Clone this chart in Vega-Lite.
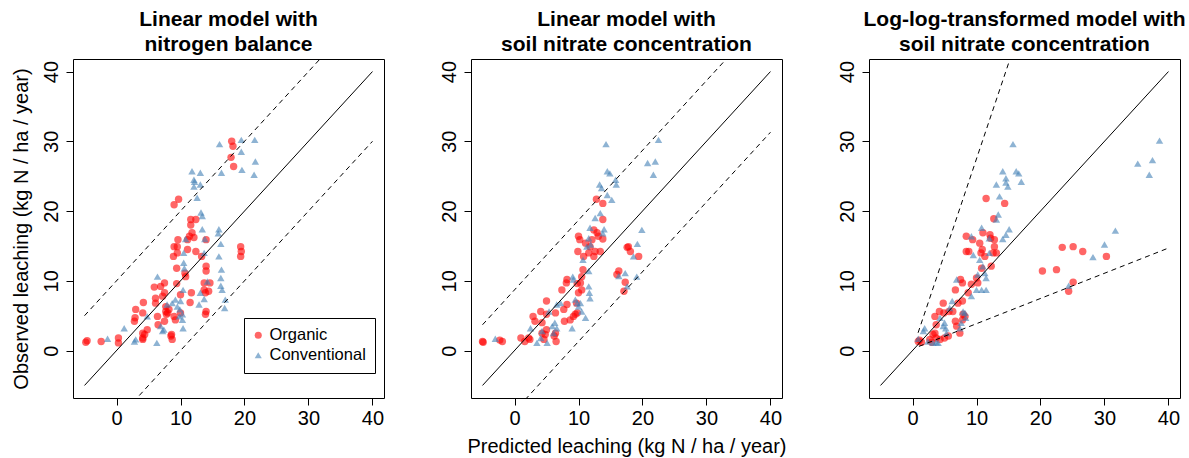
{
"$schema": "https://vega.github.io/schema/vega-lite/v6.json",
"padding": {"left": 10, "top": 8, "right": 5, "bottom": 5},
"background": "white",
"datasets": {
"pts": [
{"panel":1,"type":"Organic","pred":-4.8,"obs":1.2},{"panel":1,"type":"Organic","pred":-4.6,"obs":1.4},{"panel":1,"type":"Organic","pred":-2.4,"obs":1.3},{"panel":1,"type":"Organic","pred":0.3,"obs":1.8},{"panel":1,"type":"Organic","pred":0.3,"obs":1.1},{"panel":1,"type":"Organic","pred":3.0,"obs":5.9},{"panel":1,"type":"Organic","pred":2.9,"obs":4.7},{"panel":1,"type":"Organic","pred":2.8,"obs":4.2},{"panel":1,"type":"Organic","pred":4.1,"obs":5.4},{"panel":1,"type":"Organic","pred":4.2,"obs":6.9},{"panel":1,"type":"Organic","pred":4.1,"obs":2.5},{"panel":1,"type":"Organic","pred":4.1,"obs":1.8},{"panel":1,"type":"Organic","pred":4.1,"obs":1.6},{"panel":1,"type":"Organic","pred":4.8,"obs":3.0},{"panel":1,"type":"Organic","pred":4.4,"obs":2.3},{"panel":1,"type":"Organic","pred":5.9,"obs":9.1},{"panel":1,"type":"Organic","pred":6.1,"obs":6.8},{"panel":1,"type":"Organic","pred":6.1,"obs":7.5},{"panel":1,"type":"Organic","pred":6.4,"obs":4.9},{"panel":1,"type":"Organic","pred":6.5,"obs":3.7},{"panel":1,"type":"Organic","pred":6.9,"obs":9.2},{"panel":1,"type":"Organic","pred":7.2,"obs":7.8},{"panel":1,"type":"Organic","pred":7.5,"obs":9.7},{"panel":1,"type":"Organic","pred":7.5,"obs":8.3},{"panel":1,"type":"Organic","pred":7.7,"obs":6.3},{"panel":1,"type":"Organic","pred":7.7,"obs":5.6},{"panel":1,"type":"Organic","pred":7.8,"obs":5.2},{"panel":1,"type":"Organic","pred":8.2,"obs":5.9},{"panel":1,"type":"Organic","pred":8.0,"obs":5.4},{"panel":1,"type":"Organic","pred":7.5,"obs":4.2},{"panel":1,"type":"Organic","pred":8.5,"obs":2.1},{"panel":1,"type":"Organic","pred":8.7,"obs":1.6},{"panel":1,"type":"Organic","pred":8.6,"obs":2.3},{"panel":1,"type":"Organic","pred":9.0,"obs":4.9},{"panel":1,"type":"Organic","pred":9.2,"obs":4.4},{"panel":1,"type":"Organic","pred":9.4,"obs":9.6},{"panel":1,"type":"Organic","pred":8.9,"obs":13.5},{"panel":1,"type":"Organic","pred":9.0,"obs":14.9},{"panel":1,"type":"Organic","pred":9.5,"obs":14.9},{"panel":1,"type":"Organic","pred":9.5,"obs":14.0},{"panel":1,"type":"Organic","pred":9.6,"obs":15.9},{"panel":1,"type":"Organic","pred":9.4,"obs":11.8},{"panel":1,"type":"Organic","pred":9.0,"obs":20.9},{"panel":1,"type":"Organic","pred":9.7,"obs":21.7},{"panel":1,"type":"Organic","pred":10.0,"obs":8.0},{"panel":1,"type":"Organic","pred":10.0,"obs":5.4},{"panel":1,"type":"Organic","pred":10.7,"obs":11.1},{"panel":1,"type":"Organic","pred":10.8,"obs":10.6},{"panel":1,"type":"Organic","pred":11.1,"obs":15.9},{"panel":1,"type":"Organic","pred":11.1,"obs":14.5},{"panel":1,"type":"Organic","pred":11.4,"obs":16.4},{"panel":1,"type":"Organic","pred":11.6,"obs":18.0},{"panel":1,"type":"Organic","pred":11.6,"obs":18.8},{"panel":1,"type":"Organic","pred":11.8,"obs":16.9},{"panel":1,"type":"Organic","pred":12.1,"obs":16.2},{"panel":1,"type":"Organic","pred":12.4,"obs":18.8},{"panel":1,"type":"Organic","pred":12.4,"obs":14.2},{"panel":1,"type":"Organic","pred":11.7,"obs":8.3},{"panel":1,"type":"Organic","pred":11.5,"obs":6.9},{"panel":1,"type":"Organic","pred":13.3,"obs":13.5},{"panel":1,"type":"Organic","pred":13.7,"obs":9.7},{"panel":1,"type":"Organic","pred":13.7,"obs":8.7},{"panel":1,"type":"Organic","pred":13.9,"obs":8.3},{"panel":1,"type":"Organic","pred":14.0,"obs":12.1},{"panel":1,"type":"Organic","pred":14.0,"obs":11.4},{"panel":1,"type":"Organic","pred":14.0,"obs":15.9},{"panel":1,"type":"Organic","pred":14.0,"obs":5.6},{"panel":1,"type":"Organic","pred":13.9,"obs":5.2},{"panel":1,"type":"Organic","pred":14.4,"obs":8.5},{"panel":1,"type":"Organic","pred":14.6,"obs":9.7},{"panel":1,"type":"Organic","pred":19.4,"obs":14.9},{"panel":1,"type":"Organic","pred":19.5,"obs":14.2},{"panel":1,"type":"Organic","pred":19.4,"obs":13.5},{"panel":1,"type":"Organic","pred":18.0,"obs":30.0},{"panel":1,"type":"Organic","pred":18.2,"obs":29.3},{"panel":1,"type":"Organic","pred":17.9,"obs":27.7},{"panel":1,"type":"Organic","pred":18.3,"obs":26.4},
{"panel":1,"type":"Conventional","pred":-1.4,"obs":1.7},{"panel":1,"type":"Conventional","pred":1.2,"obs":3.2},{"panel":1,"type":"Conventional","pred":2.8,"obs":1.3},{"panel":1,"type":"Conventional","pred":3.0,"obs":1.6},{"panel":1,"type":"Conventional","pred":4.8,"obs":4.9},{"panel":1,"type":"Conventional","pred":6.3,"obs":1.1},{"panel":1,"type":"Conventional","pred":6.4,"obs":10.6},{"panel":1,"type":"Conventional","pred":6.9,"obs":3.5},{"panel":1,"type":"Conventional","pred":7.2,"obs":2.8},{"panel":1,"type":"Conventional","pred":7.4,"obs":3.0},{"panel":1,"type":"Conventional","pred":7.9,"obs":6.6},{"panel":1,"type":"Conventional","pred":8.7,"obs":6.8},{"panel":1,"type":"Conventional","pred":9.2,"obs":7.3},{"panel":1,"type":"Conventional","pred":9.5,"obs":6.3},{"panel":1,"type":"Conventional","pred":9.8,"obs":4.9},{"panel":1,"type":"Conventional","pred":10.3,"obs":5.2},{"panel":1,"type":"Conventional","pred":10.3,"obs":4.4},{"panel":1,"type":"Conventional","pred":10.4,"obs":3.2},{"panel":1,"type":"Conventional","pred":10.5,"obs":12.6},{"panel":1,"type":"Conventional","pred":10.5,"obs":14.0},{"panel":1,"type":"Conventional","pred":10.4,"obs":8.7},{"panel":1,"type":"Conventional","pred":10.6,"obs":11.8},{"panel":1,"type":"Conventional","pred":10.8,"obs":16.0},{"panel":1,"type":"Conventional","pred":11.8,"obs":25.7},{"panel":1,"type":"Conventional","pred":12.1,"obs":24.5},{"panel":1,"type":"Conventional","pred":12.2,"obs":24.2},{"panel":1,"type":"Conventional","pred":12.1,"obs":23.5},{"panel":1,"type":"Conventional","pred":12.6,"obs":21.9},{"panel":1,"type":"Conventional","pred":13.1,"obs":25.5},{"panel":1,"type":"Conventional","pred":13.1,"obs":23.8},{"panel":1,"type":"Conventional","pred":13.2,"obs":19.8},{"panel":1,"type":"Conventional","pred":13.4,"obs":19.3},{"panel":1,"type":"Conventional","pred":13.4,"obs":17.4},{"panel":1,"type":"Conventional","pred":13.8,"obs":16.0},{"panel":1,"type":"Conventional","pred":13.7,"obs":14.0},{"panel":1,"type":"Conventional","pred":13.1,"obs":8.3},{"panel":1,"type":"Conventional","pred":13.7,"obs":7.4},{"panel":1,"type":"Conventional","pred":12.9,"obs":6.6},{"panel":1,"type":"Conventional","pred":14.2,"obs":9.9},{"panel":1,"type":"Conventional","pred":16.0,"obs":17.4},{"panel":1,"type":"Conventional","pred":15.9,"obs":16.8},{"panel":1,"type":"Conventional","pred":16.3,"obs":15.3},{"panel":1,"type":"Conventional","pred":16.0,"obs":13.5},{"panel":1,"type":"Conventional","pred":16.4,"obs":11.6},{"panel":1,"type":"Conventional","pred":16.3,"obs":10.4},{"panel":1,"type":"Conventional","pred":16.3,"obs":9.3},{"panel":1,"type":"Conventional","pred":16.5,"obs":8.7},{"panel":1,"type":"Conventional","pred":16.9,"obs":6.1},{"panel":1,"type":"Conventional","pred":17.0,"obs":7.3},{"panel":1,"type":"Conventional","pred":16.1,"obs":29.6},{"panel":1,"type":"Conventional","pred":16.4,"obs":25.5},{"panel":1,"type":"Conventional","pred":19.5,"obs":30.2},{"panel":1,"type":"Conventional","pred":19.5,"obs":28.5},{"panel":1,"type":"Conventional","pred":19.6,"obs":25.9},{"panel":1,"type":"Conventional","pred":21.6,"obs":30.2},{"panel":1,"type":"Conventional","pred":21.7,"obs":27.1},{"panel":1,"type":"Conventional","pred":21.5,"obs":25.2},{"panel":1,"type":"Conventional","pred":10.0,"obs":7.1},{"panel":1,"type":"Conventional","pred":9.9,"obs":5.9},
{"panel":2,"type":"Organic","pred":-5.0,"obs":1.3},{"panel":2,"type":"Organic","pred":-4.9,"obs":1.2},{"panel":2,"type":"Organic","pred":-2.3,"obs":1.5},{"panel":2,"type":"Organic","pred":-1.9,"obs":1.3},{"panel":2,"type":"Organic","pred":1.0,"obs":1.8},{"panel":2,"type":"Organic","pred":1.6,"obs":1.3},{"panel":2,"type":"Organic","pred":2.2,"obs":1.8},{"panel":2,"type":"Organic","pred":2.4,"obs":1.6},{"panel":2,"type":"Organic","pred":2.9,"obs":4.9},{"panel":2,"type":"Organic","pred":3.2,"obs":4.2},{"panel":2,"type":"Organic","pred":4.1,"obs":5.6},{"panel":2,"type":"Organic","pred":4.3,"obs":4.0},{"panel":2,"type":"Organic","pred":4.3,"obs":2.5},{"panel":2,"type":"Organic","pred":4.6,"obs":1.6},{"panel":2,"type":"Organic","pred":5.0,"obs":7.1},{"panel":2,"type":"Organic","pred":5.0,"obs":5.2},{"panel":2,"type":"Organic","pred":5.0,"obs":3.0},{"panel":2,"type":"Organic","pred":4.8,"obs":2.3},{"panel":2,"type":"Organic","pred":6.4,"obs":5.4},{"panel":2,"type":"Organic","pred":6.2,"obs":2.1},{"panel":2,"type":"Organic","pred":6.4,"obs":2.5},{"panel":2,"type":"Organic","pred":6.5,"obs":1.3},{"panel":2,"type":"Organic","pred":7.7,"obs":5.9},{"panel":2,"type":"Organic","pred":7.4,"obs":8.7},{"panel":2,"type":"Organic","pred":7.8,"obs":4.2},{"panel":2,"type":"Organic","pred":8.2,"obs":10.2},{"panel":2,"type":"Organic","pred":8.1,"obs":9.7},{"panel":2,"type":"Organic","pred":8.2,"obs":6.6},{"panel":2,"type":"Organic","pred":8.7,"obs":4.4},{"panel":2,"type":"Organic","pred":9.2,"obs":4.9},{"panel":2,"type":"Organic","pred":9.5,"obs":5.2},{"panel":2,"type":"Organic","pred":9.7,"obs":6.8},{"panel":2,"type":"Organic","pred":9.8,"obs":9.6},{"panel":2,"type":"Organic","pred":10.0,"obs":8.3},{"panel":2,"type":"Organic","pred":9.9,"obs":14.2},{"panel":2,"type":"Organic","pred":10.0,"obs":16.4},{"panel":2,"type":"Organic","pred":10.2,"obs":15.9},{"panel":2,"type":"Organic","pred":10.3,"obs":9.7},{"panel":2,"type":"Organic","pred":10.5,"obs":10.6},{"panel":2,"type":"Organic","pred":10.7,"obs":11.6},{"panel":2,"type":"Organic","pred":10.8,"obs":13.5},{"panel":2,"type":"Organic","pred":11.1,"obs":15.4},{"panel":2,"type":"Organic","pred":11.6,"obs":14.0},{"panel":2,"type":"Organic","pred":11.8,"obs":14.9},{"panel":2,"type":"Organic","pred":12.1,"obs":15.9},{"panel":2,"type":"Organic","pred":12.4,"obs":17.3},{"panel":2,"type":"Organic","pred":12.4,"obs":13.5},{"panel":2,"type":"Organic","pred":12.6,"obs":14.2},{"panel":2,"type":"Organic","pred":12.9,"obs":16.9},{"panel":2,"type":"Organic","pred":13.1,"obs":16.4},{"panel":2,"type":"Organic","pred":13.4,"obs":14.2},{"panel":2,"type":"Organic","pred":12.8,"obs":21.7},{"panel":2,"type":"Organic","pred":13.8,"obs":21.1},{"panel":2,"type":"Organic","pred":13.8,"obs":18.8},{"panel":2,"type":"Organic","pred":13.8,"obs":16.0},{"panel":2,"type":"Organic","pred":16.3,"obs":11.4},{"panel":2,"type":"Organic","pred":16.0,"obs":10.9},{"panel":2,"type":"Organic","pred":17.3,"obs":9.8},{"panel":2,"type":"Organic","pred":17.1,"obs":8.5},{"panel":2,"type":"Organic","pred":17.6,"obs":14.8},{"panel":2,"type":"Organic","pred":17.8,"obs":14.9},{"panel":2,"type":"Organic","pred":18.1,"obs":14.2},{"panel":2,"type":"Organic","pred":19.4,"obs":13.5},{"panel":2,"type":"Organic","pred":9.8,"obs":5.4},{"panel":2,"type":"Organic","pred":10.5,"obs":8.7},
{"panel":2,"type":"Conventional","pred":-3.0,"obs":1.7},{"panel":2,"type":"Conventional","pred":2.5,"obs":3.2},{"panel":2,"type":"Conventional","pred":3.5,"obs":1.1},{"panel":2,"type":"Conventional","pred":4.1,"obs":1.8},{"panel":2,"type":"Conventional","pred":4.3,"obs":2.8},{"panel":2,"type":"Conventional","pred":5.1,"obs":1.1},{"panel":2,"type":"Conventional","pred":5.4,"obs":5.6},{"panel":2,"type":"Conventional","pred":5.9,"obs":3.5},{"panel":2,"type":"Conventional","pred":6.1,"obs":2.5},{"panel":2,"type":"Conventional","pred":6.3,"obs":4.0},{"panel":2,"type":"Conventional","pred":6.6,"obs":3.2},{"panel":2,"type":"Conventional","pred":6.6,"obs":6.6},{"panel":2,"type":"Conventional","pred":7.2,"obs":6.8},{"panel":2,"type":"Conventional","pred":9.0,"obs":3.2},{"panel":2,"type":"Conventional","pred":9.1,"obs":10.6},{"panel":2,"type":"Conventional","pred":9.2,"obs":10.2},{"panel":2,"type":"Conventional","pred":9.5,"obs":7.3},{"panel":2,"type":"Conventional","pred":9.8,"obs":6.8},{"panel":2,"type":"Conventional","pred":10.5,"obs":5.6},{"panel":2,"type":"Conventional","pred":11.1,"obs":4.7},{"panel":2,"type":"Conventional","pred":10.7,"obs":13.0},{"panel":2,"type":"Conventional","pred":11.3,"obs":14.9},{"panel":2,"type":"Conventional","pred":11.6,"obs":16.1},{"panel":2,"type":"Conventional","pred":11.6,"obs":11.4},{"panel":2,"type":"Conventional","pred":11.6,"obs":9.2},{"panel":2,"type":"Conventional","pred":11.7,"obs":8.3},{"panel":2,"type":"Conventional","pred":11.8,"obs":17.6},{"panel":2,"type":"Conventional","pred":11.9,"obs":15.2},{"panel":2,"type":"Conventional","pred":11.8,"obs":7.5},{"panel":2,"type":"Conventional","pred":12.6,"obs":19.0},{"panel":2,"type":"Conventional","pred":13.4,"obs":19.7},{"panel":2,"type":"Conventional","pred":13.3,"obs":23.8},{"panel":2,"type":"Conventional","pred":13.6,"obs":23.3},{"panel":2,"type":"Conventional","pred":14.3,"obs":29.6},{"panel":2,"type":"Conventional","pred":14.5,"obs":25.7},{"panel":2,"type":"Conventional","pred":14.9,"obs":25.4},{"panel":2,"type":"Conventional","pred":15.8,"obs":24.5},{"panel":2,"type":"Conventional","pred":15.9,"obs":23.8},{"panel":2,"type":"Conventional","pred":14.5,"obs":22.3},{"panel":2,"type":"Conventional","pred":15.2,"obs":21.6},{"panel":2,"type":"Conventional","pred":14.0,"obs":17.4},{"panel":2,"type":"Conventional","pred":13.8,"obs":16.8},{"panel":2,"type":"Conventional","pred":16.3,"obs":10.7},{"panel":2,"type":"Conventional","pred":17.6,"obs":9.2},{"panel":2,"type":"Conventional","pred":17.3,"obs":11.1},{"panel":2,"type":"Conventional","pred":19.2,"obs":15.3},{"panel":2,"type":"Conventional","pred":19.9,"obs":17.3},{"panel":2,"type":"Conventional","pred":19.1,"obs":10.6},{"panel":2,"type":"Conventional","pred":18.6,"obs":13.5},{"panel":2,"type":"Conventional","pred":20.8,"obs":26.9},{"panel":2,"type":"Conventional","pred":22.0,"obs":27.1},{"panel":2,"type":"Conventional","pred":21.7,"obs":25.2},{"panel":2,"type":"Conventional","pred":22.5,"obs":30.2},{"panel":2,"type":"Conventional","pred":10.3,"obs":6.8},{"panel":2,"type":"Conventional","pred":10.0,"obs":6.3},
{"panel":3,"type":"Organic","pred":0.9,"obs":1.3},{"panel":3,"type":"Organic","pred":1.1,"obs":1.5},{"panel":3,"type":"Organic","pred":1.4,"obs":1.2},{"panel":3,"type":"Organic","pred":2.7,"obs":1.6},{"panel":3,"type":"Organic","pred":3.0,"obs":1.2},{"panel":3,"type":"Organic","pred":3.2,"obs":2.3},{"panel":3,"type":"Organic","pred":3.5,"obs":4.9},{"panel":3,"type":"Organic","pred":3.7,"obs":3.7},{"panel":3,"type":"Organic","pred":3.5,"obs":2.5},{"panel":3,"type":"Organic","pred":4.2,"obs":5.6},{"panel":3,"type":"Organic","pred":3.7,"obs":1.8},{"panel":3,"type":"Organic","pred":4.3,"obs":1.6},{"panel":3,"type":"Organic","pred":4.8,"obs":6.8},{"panel":3,"type":"Organic","pred":4.9,"obs":5.4},{"panel":3,"type":"Organic","pred":5.0,"obs":1.8},{"panel":3,"type":"Organic","pred":5.6,"obs":2.1},{"panel":3,"type":"Organic","pred":5.7,"obs":5.6},{"panel":3,"type":"Organic","pred":6.3,"obs":5.6},{"panel":3,"type":"Organic","pred":6.7,"obs":8.7},{"panel":3,"type":"Organic","pred":6.7,"obs":4.2},{"panel":3,"type":"Organic","pred":7.1,"obs":6.8},{"panel":3,"type":"Organic","pred":7.5,"obs":10.2},{"panel":3,"type":"Organic","pred":7.8,"obs":9.7},{"panel":3,"type":"Organic","pred":7.8,"obs":7.1},{"panel":3,"type":"Organic","pred":7.8,"obs":4.4},{"panel":3,"type":"Organic","pred":7.9,"obs":5.2},{"panel":3,"type":"Organic","pred":8.2,"obs":4.9},{"panel":3,"type":"Organic","pred":8.4,"obs":16.4},{"panel":3,"type":"Organic","pred":8.4,"obs":14.2},{"panel":3,"type":"Organic","pred":8.8,"obs":14.2},{"panel":3,"type":"Organic","pred":8.7,"obs":8.3},{"panel":3,"type":"Organic","pred":9.2,"obs":9.5},{"panel":3,"type":"Organic","pred":9.4,"obs":15.9},{"panel":3,"type":"Organic","pred":10.0,"obs":10.4},{"panel":3,"type":"Organic","pred":10.2,"obs":9.7},{"panel":3,"type":"Organic","pred":10.5,"obs":15.4},{"panel":3,"type":"Organic","pred":10.7,"obs":14.0},{"panel":3,"type":"Organic","pred":10.9,"obs":14.5},{"panel":3,"type":"Organic","pred":10.8,"obs":11.8},{"panel":3,"type":"Organic","pred":11.0,"obs":16.9},{"panel":3,"type":"Organic","pred":11.3,"obs":13.5},{"panel":3,"type":"Organic","pred":11.5,"obs":21.8},{"panel":3,"type":"Organic","pred":12.1,"obs":16.6},{"panel":3,"type":"Organic","pred":12.2,"obs":16.1},{"panel":3,"type":"Organic","pred":12.3,"obs":12.1},{"panel":3,"type":"Organic","pred":12.6,"obs":14.0},{"panel":3,"type":"Organic","pred":12.7,"obs":18.9},{"panel":3,"type":"Organic","pred":12.8,"obs":15.9},{"panel":3,"type":"Organic","pred":12.8,"obs":14.9},{"panel":3,"type":"Organic","pred":13.1,"obs":14.0},{"panel":3,"type":"Organic","pred":14.4,"obs":21.1},{"panel":3,"type":"Organic","pred":20.3,"obs":11.4},{"panel":3,"type":"Organic","pred":22.5,"obs":11.6},{"panel":3,"type":"Organic","pred":23.4,"obs":14.8},{"panel":3,"type":"Organic","pred":25.1,"obs":14.9},{"panel":3,"type":"Organic","pred":25.1,"obs":9.8},{"panel":3,"type":"Organic","pred":24.4,"obs":8.5},{"panel":3,"type":"Organic","pred":26.6,"obs":14.2},{"panel":3,"type":"Organic","pred":30.3,"obs":13.5},{"panel":3,"type":"Organic","pred":7.4,"obs":2.5},{"panel":3,"type":"Organic","pred":6.9,"obs":3.5},
{"panel":3,"type":"Conventional","pred":0.9,"obs":1.7},{"panel":3,"type":"Conventional","pred":1.9,"obs":3.2},{"panel":3,"type":"Conventional","pred":1.7,"obs":2.8},{"panel":3,"type":"Conventional","pred":2.4,"obs":1.3},{"panel":3,"type":"Conventional","pred":3.2,"obs":1.1},{"panel":3,"type":"Conventional","pred":3.7,"obs":1.2},{"panel":3,"type":"Conventional","pred":4.0,"obs":1.1},{"panel":3,"type":"Conventional","pred":4.3,"obs":4.7},{"panel":3,"type":"Conventional","pred":4.8,"obs":3.5},{"panel":3,"type":"Conventional","pred":5.0,"obs":4.0},{"panel":3,"type":"Conventional","pred":5.3,"obs":2.5},{"panel":3,"type":"Conventional","pred":5.2,"obs":3.2},{"panel":3,"type":"Conventional","pred":5.8,"obs":6.1},{"panel":3,"type":"Conventional","pred":6.2,"obs":7.1},{"panel":3,"type":"Conventional","pred":6.9,"obs":10.2},{"panel":3,"type":"Conventional","pred":7.4,"obs":3.2},{"panel":3,"type":"Conventional","pred":7.6,"obs":4.0},{"panel":3,"type":"Conventional","pred":7.9,"obs":5.6},{"panel":3,"type":"Conventional","pred":8.2,"obs":5.4},{"panel":3,"type":"Conventional","pred":8.3,"obs":4.7},{"panel":3,"type":"Conventional","pred":9.2,"obs":16.4},{"panel":3,"type":"Conventional","pred":9.5,"obs":13.7},{"panel":3,"type":"Conventional","pred":9.2,"obs":7.8},{"panel":3,"type":"Conventional","pred":10.0,"obs":8.7},{"panel":3,"type":"Conventional","pred":10.2,"obs":10.9},{"panel":3,"type":"Conventional","pred":10.5,"obs":13.0},{"panel":3,"type":"Conventional","pred":10.8,"obs":17.6},{"panel":3,"type":"Conventional","pred":10.8,"obs":8.7},{"panel":3,"type":"Conventional","pred":11.0,"obs":12.1},{"panel":3,"type":"Conventional","pred":11.3,"obs":11.1},{"panel":3,"type":"Conventional","pred":11.5,"obs":10.4},{"panel":3,"type":"Conventional","pred":11.5,"obs":8.7},{"panel":3,"type":"Conventional","pred":12.0,"obs":14.0},{"panel":3,"type":"Conventional","pred":12.0,"obs":16.1},{"panel":3,"type":"Conventional","pred":13.1,"obs":18.8},{"panel":3,"type":"Conventional","pred":13.4,"obs":19.5},{"panel":3,"type":"Conventional","pred":13.1,"obs":23.8},{"panel":3,"type":"Conventional","pred":13.6,"obs":22.1},{"panel":3,"type":"Conventional","pred":14.1,"obs":25.7},{"panel":3,"type":"Conventional","pred":14.6,"obs":24.7},{"panel":3,"type":"Conventional","pred":14.6,"obs":24.1},{"panel":3,"type":"Conventional","pred":14.9,"obs":23.5},{"panel":3,"type":"Conventional","pred":15.7,"obs":29.6},{"panel":3,"type":"Conventional","pred":16.2,"obs":25.7},{"panel":3,"type":"Conventional","pred":16.6,"obs":25.4},{"panel":3,"type":"Conventional","pred":17.0,"obs":24.2},{"panel":3,"type":"Conventional","pred":15.1,"obs":17.4},{"panel":3,"type":"Conventional","pred":14.6,"obs":16.6},{"panel":3,"type":"Conventional","pred":28.2,"obs":13.4},{"panel":3,"type":"Conventional","pred":30.0,"obs":15.2},{"panel":3,"type":"Conventional","pred":31.7,"obs":17.2},{"panel":3,"type":"Conventional","pred":24.4,"obs":9.3},{"panel":3,"type":"Conventional","pred":35.2,"obs":26.8},{"panel":3,"type":"Conventional","pred":37.0,"obs":25.2},{"panel":3,"type":"Conventional","pred":37.5,"obs":27.3},{"panel":3,"type":"Conventional","pred":38.6,"obs":30.1},{"panel":3,"type":"Conventional","pred":14.1,"obs":16.0}
],
"lines": [
{"panel":1,"line":"ref","style":"solid","pred":-5,"obs":-5},{"panel":1,"line":"ref","style":"solid","pred":40,"obs":40},
{"panel":1,"line":"up","style":"dash","pred":-5,"obs":5},{"panel":1,"line":"up","style":"dash","pred":40,"obs":50},
{"panel":1,"line":"lo","style":"dash","pred":-5,"obs":-15},{"panel":1,"line":"lo","style":"dash","pred":40,"obs":30},
{"panel":2,"line":"ref","style":"solid","pred":-5,"obs":-5},{"panel":2,"line":"ref","style":"solid","pred":40,"obs":40},
{"panel":2,"line":"up","style":"dash","pred":-5,"obs":3.7},{"panel":2,"line":"up","style":"dash","pred":40,"obs":48.7},
{"panel":2,"line":"lo","style":"dash","pred":-5,"obs":-13.7},{"panel":2,"line":"lo","style":"dash","pred":40,"obs":31.3},
{"panel":3,"line":"ref","style":"solid","pred":-5,"obs":-5},{"panel":3,"line":"ref","style":"solid","pred":40,"obs":40},
{"panel":3,"line":"up","style":"dash","pred":0.87,"obs":2.55},{"panel":3,"line":"up","style":"dash","pred":15.6,"obs":42.8},
{"panel":3,"line":"lo","style":"dash","pred":1.0,"obs":0.6},{"panel":3,"line":"lo","style":"dash","pred":40,"obs":14.7}
]
},
"hconcat": [
{
"width": 311, "height": 339,
"title": {"text": ["Linear model with", "nitrogen balance"]},
"encoding": {
"x": {"field": "pred", "type": "quantitative", "scale": {"domain": [-6.8, 41.8], "nice": false, "zero": false}, "axis": {"title": null, "values": [0,10,20,30,40]}},
"y": {"field": "obs", "type": "quantitative", "scale": {"domain": [-6.8, 41.8], "nice": false, "zero": false}, "axis": {"title": "Observed leaching (kg N / ha / year)", "values": [0,10,20,30,40]}}
},
"layer": [
{"data": {"name": "pts"}, "transform": [{"filter": "datum.panel == 1"}], "mark": {"type": "point", "filled": true, "opacity": 0.6, "size": 55, "strokeWidth": 0},
"encoding": {
"color": {"field": "type", "type": "nominal", "scale": {"domain": ["Organic", "Conventional"], "range": ["#FF0000", "#4280B6"]}, "legend": {"title": null, "orient": "none", "legendX": 171, "legendY": 259, "padding": 9, "symbolOffset": -3, "strokeColor": "black", "labelFontSize": 16.5, "labelOffset": 3, "rowPadding": 3, "symbolSize": 50, "symbolOpacity": 0.6, "symbolStrokeWidth": 0, "labelColor": "black"}},
"shape": {"field": "type", "type": "nominal", "scale": {"domain": ["Organic", "Conventional"], "range": ["circle", "triangle-up"]}, "legend": {"title": null, "orient": "none", "legendX": 171, "legendY": 259, "padding": 9, "symbolOffset": -3, "strokeColor": "black", "labelFontSize": 16.5, "labelOffset": 3, "rowPadding": 3, "symbolSize": 50, "symbolOpacity": 0.6, "symbolStrokeWidth": 0, "labelColor": "black"}}
}},
{"data": {"name": "lines"}, "transform": [{"filter": "datum.panel == 1 && datum.style == 'solid'"}], "mark": {"type": "line", "color": "black", "strokeWidth": 1, "clip": true}, "encoding": {"order": {"field": "pred", "type": "quantitative"}}},
{"data": {"name": "lines"}, "transform": [{"filter": "datum.panel == 1 && datum.style == 'dash'"}], "mark": {"type": "line", "color": "black", "strokeWidth": 1, "strokeDash": [5, 4], "clip": true}, "encoding": {"detail": {"field": "line", "type": "nominal"}, "order": {"field": "pred", "type": "quantitative"}}}
]
},
{
"width": 311, "height": 339,
"title": {"text": ["Linear model with", "soil nitrate concentration"]},
"encoding": {
"x": {"field": "pred", "type": "quantitative", "scale": {"domain": [-6.8, 41.8], "nice": false, "zero": false}, "axis": {"title": "Predicted leaching (kg N / ha / year)", "values": [0,10,20,30,40]}},
"y": {"field": "obs", "type": "quantitative", "scale": {"domain": [-6.8, 41.8], "nice": false, "zero": false}, "axis": {"title": null, "values": [0,10,20,30,40]}}
},
"layer": [
{"data": {"name": "pts"}, "transform": [{"filter": "datum.panel == 2"}], "mark": {"type": "point", "filled": true, "opacity": 0.6, "size": 55, "strokeWidth": 0},
"encoding": {
"color": {"field": "type", "type": "nominal", "scale": {"domain": ["Organic", "Conventional"], "range": ["#FF0000", "#4280B6"]}, "legend": null},
"shape": {"field": "type", "type": "nominal", "scale": {"domain": ["Organic", "Conventional"], "range": ["circle", "triangle-up"]}, "legend": null}
}},
{"data": {"name": "lines"}, "transform": [{"filter": "datum.panel == 2 && datum.style == 'solid'"}], "mark": {"type": "line", "color": "black", "strokeWidth": 1, "clip": true}, "encoding": {"order": {"field": "pred", "type": "quantitative"}}},
{"data": {"name": "lines"}, "transform": [{"filter": "datum.panel == 2 && datum.style == 'dash'"}], "mark": {"type": "line", "color": "black", "strokeWidth": 1, "strokeDash": [5, 4], "clip": true}, "encoding": {"detail": {"field": "line", "type": "nominal"}, "order": {"field": "pred", "type": "quantitative"}}}
]
},
{
"width": 311, "height": 339,
"title": {"text": ["Log-log-transformed model with", "soil nitrate concentration"]},
"encoding": {
"x": {"field": "pred", "type": "quantitative", "scale": {"domain": [-6.8, 41.8], "nice": false, "zero": false}, "axis": {"title": null, "values": [0,10,20,30,40]}},
"y": {"field": "obs", "type": "quantitative", "scale": {"domain": [-6.8, 41.8], "nice": false, "zero": false}, "axis": {"title": null, "values": [0,10,20,30,40]}}
},
"layer": [
{"data": {"name": "pts"}, "transform": [{"filter": "datum.panel == 3"}], "mark": {"type": "point", "filled": true, "opacity": 0.6, "size": 55, "strokeWidth": 0},
"encoding": {
"color": {"field": "type", "type": "nominal", "scale": {"domain": ["Organic", "Conventional"], "range": ["#FF0000", "#4280B6"]}, "legend": null},
"shape": {"field": "type", "type": "nominal", "scale": {"domain": ["Organic", "Conventional"], "range": ["circle", "triangle-up"]}, "legend": null}
}},
{"data": {"name": "lines"}, "transform": [{"filter": "datum.panel == 3 && datum.style == 'solid'"}], "mark": {"type": "line", "color": "black", "strokeWidth": 1, "clip": true}, "encoding": {"order": {"field": "pred", "type": "quantitative"}}},
{"data": {"name": "lines"}, "transform": [{"filter": "datum.panel == 3 && datum.style == 'dash'"}], "mark": {"type": "line", "color": "black", "strokeWidth": 1, "strokeDash": [5, 4], "clip": true}, "encoding": {"detail": {"field": "line", "type": "nominal"}, "order": {"field": "pred", "type": "quantitative"}}}
]
}
],
"spacing": 87,
"bounds": "flush",
"resolve": {"legend": {"color": "independent", "shape": "independent"}},
"config": {
"font": "Liberation Sans",
"view": {"stroke": "black", "strokeWidth": 1},
"axis": {"domain": false, "grid": false, "tickColor": "black", "tickSize": 7, "labelFontSize": 20, "labelColor": "black", "titleFontSize": 20, "titleFontWeight": "normal", "titleColor": "black", "labelFont": "Liberation Sans", "titleFont": "Liberation Sans", "labelOverlap": false, "labelFlush": false},
"axisY": {"labelAngle": -90, "labelAlign": "center", "labelBaseline": "bottom", "labelPadding": 5, "titlePadding": 10},
"axisX": {"labelPadding": 3, "titlePadding": 8},
"title": {"fontSize": 21, "fontWeight": "bold", "lineHeight": 25, "color": "black", "font": "Liberation Sans", "offset": 4, "anchor": "middle"},
"legend": {"labelFont": "Liberation Sans"}
}
}
